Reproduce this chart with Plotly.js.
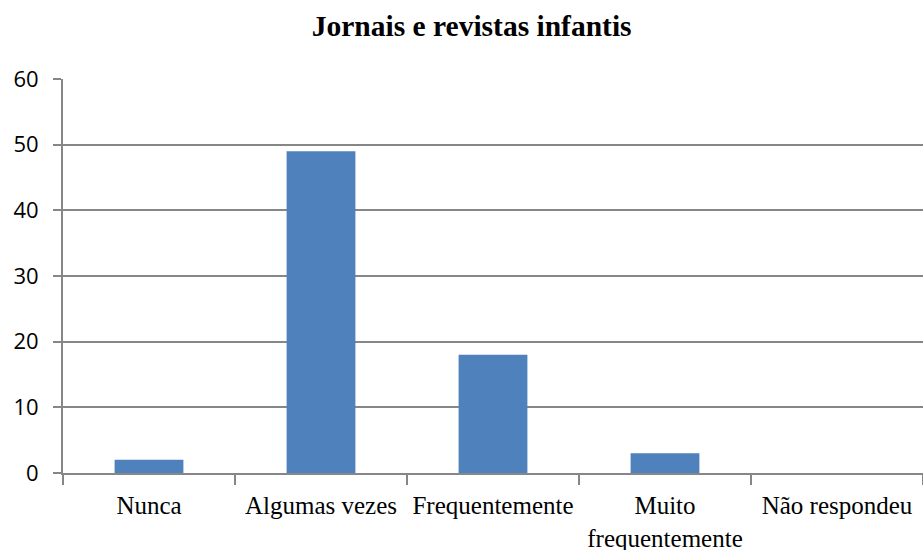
<!DOCTYPE html>
<html>
<head>
<meta charset="utf-8">
<script src="https://cdn.plot.ly/plotly-3.0.1.min.js"></script>
<style>html,body{margin:0;padding:0;background:#fff;}#chart{width:923px;height:550px;}</style>
</head>
<body>
<div id="chart"></div>
<script>
const categories = ["Nunca", "Algumas vezes", "Frequentemente", "Muito<br>frequentemente", "Não respondeu"];
const values = [2, 49, 18, 3, 0];
const yTicks = [0, 10, 20, 30, 40, 50, 60];
const chartTitle = "Jornais e revistas infantis";

const trace = {
  type: "bar",
  x: categories,
  y: values,
  marker: {color: "#4F81BD"},
  hoverinfo: "x+y"
};

const layout = {
  width: 923,
  height: 550,
  margin: {l: 63, r: 0, t: 79, b: 77},
  paper_bgcolor: "#ffffff",
  plot_bgcolor: "#ffffff",
  bargap: 0.6,
  showlegend: false,
  title: {
    text: "<b>" + chartTitle + "</b>",
    font: {family: "Liberation Serif, Times New Roman, serif", size: 29.5, color: "#000"},
    x: 0.511, xref: "container", xanchor: "center",
    y: 0.953, yref: "container", yanchor: "middle"
  },
  xaxis: {
    type: "category",
    showline: true, linecolor: "#878787", linewidth: 2,
    ticks: "outside", tickson: "boundaries", ticklen: 10, tickwidth: 2, tickcolor: "#878787",
    tickfont: {family: "Liberation Serif, Times New Roman, serif", size: 25, color: "#000"},
    tickangle: 0,
    ticklabelstandoff: 9,
    showgrid: false, zeroline: false,
    fixedrange: true
  },
  yaxis: {
    range: [0, 60],
    tickvals: yTicks,
    ticktext: yTicks.map(String),
    showline: true, linecolor: "#878787", linewidth: 2,
    ticks: "outside", ticklen: 8, tickwidth: 2, tickcolor: "#878787",
    ticklabelstandoff: 10,
    showgrid: true, gridcolor: "#878787", gridwidth: 2,
    zeroline: false,
    tickfont: {family: "Open Sans, sans-serif", size: 22, color: "#000"},
    fixedrange: true
  }
};

Plotly.newPlot("chart", [trace], layout, {displayModeBar: false, responsive: false});
</script>
</body>
</html>
